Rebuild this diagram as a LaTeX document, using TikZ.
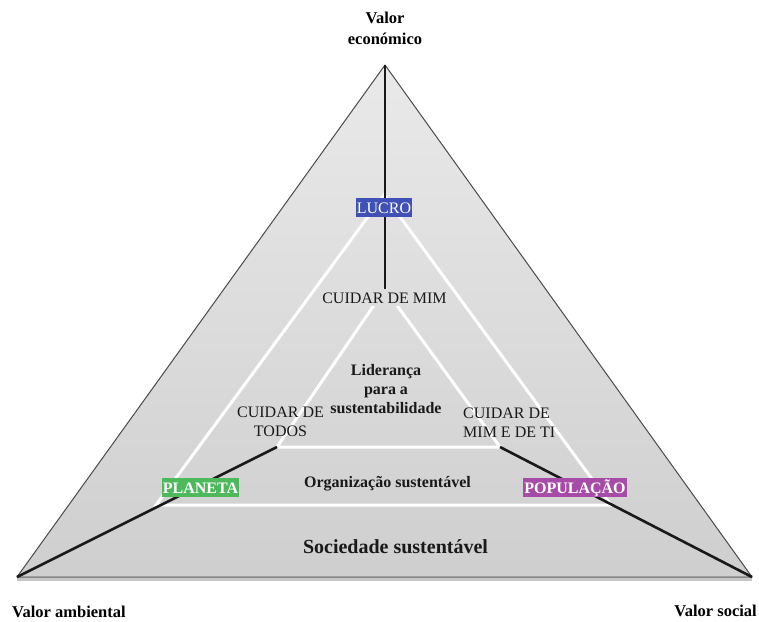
\documentclass[tikz,border=0pt]{standalone}
\usepackage{fontspec}
\setmainfont{Liberation Serif}
\definecolor{lucroblue}{HTML}{3F51B5}
\definecolor{planetgreen}{HTML}{4DB85C}
\definecolor{popviolet}{HTML}{A64CA8}
\definecolor{edgegray}{HTML}{4A4A4A}
\begin{document}
\begin{tikzpicture}[x=1pt,y=-1pt,
  txt/.style={font=\fontsize{16}{19}\selectfont, text=black!90, inner sep=0pt},
  boldtxt/.style={txt, font=\fontsize{16}{19}\selectfont\bfseries},
  vertexlabel/.style={font=\fontsize{16.5}{21}\selectfont\bfseries, inner sep=0pt},
  tag/.style={font=\fontsize{16}{19}\selectfont, text=white, inner xsep=1pt,
    inner ysep=4pt, text height=11pt, text depth=0pt, anchor=base},
  whiteline/.style={draw=white, line width=3pt, line join=miter},
  blackline/.style={draw=black!90, line width=2.6pt}]
\useasboundingbox (0,0) rectangle (759,621);

% corner points of the three triangles
\coordinate (E) at (385,65);
\coordinate (A) at (17,577);
\coordinate (S) at (752,577);
\coordinate (m1) at (384,195);
\coordinate (m2) at (156,505);
\coordinate (m3) at (611,505);
\coordinate (i1) at (385,289);
\coordinate (i2) at (277,447);
\coordinate (i3) at (500,447);

% outer triangle with soft shadow along the base
\draw[gray!45, line width=3pt] ([yshift=-2pt]A) -- ([yshift=-2pt]S);
\shade[top color=gray!17, bottom color=gray!38] (E) -- (A) -- (S) -- cycle;
\draw[edgegray, line width=1pt, line join=round] (E) -- (A) -- (S) -- cycle;

% nested white triangles
\draw[whiteline] (m1) -- (m2) -- (m3) -- cycle;
\draw[whiteline] (i1) -- (i2) -- (i3) -- cycle;

% axes from the outer corners
\draw[blackline] (E) -- (i1);
\draw[blackline] (A) -- (i2);
\draw[blackline] (i3) -- (S);

% corner values
\node[vertexlabel, align=center, anchor=base] (eco) at (385,44) {Valor\\econ\'omico};
\node[vertexlabel, anchor=base west] (amb) at (12,617) {Valor ambiental};
\node[vertexlabel, anchor=base east] (soc) at (757,616) {Valor social};

% coloured tags
\node[tag, fill=lucroblue] (lucro) at (384,213) {LUCRO};
\node[tag, fill=planetgreen, font=\fontsize{16}{19}\selectfont\bfseries] (planeta) at (200.5,493) {PLANETA};
\node[tag, fill=popviolet, font=\fontsize{16}{19}\selectfont\bfseries] (pop) at (575,493) {POPULAÇÃO};

% texts inside the triangles
\node[txt, anchor=base, fill=gray!26, inner xsep=1pt, inner ysep=3pt] (mim) at (384.5,303) {CUIDAR DE MIM};
\node[boldtxt, align=center, anchor=base] (lid) at (386,413) {Liderança\\para a\\sustentabilidade};
\node[txt, align=center, anchor=base] (todos) at (280.5,436) {CUIDAR DE\\TODOS};
\node[txt, align=left, anchor=base west] (ti) at (463,437) {CUIDAR DE\\MIM E DE TI};
\node[boldtxt, anchor=base] (org) at (387.5,487) {Organização sustentável};
\node[txt, font=\fontsize{20}{24}\selectfont\bfseries, anchor=base] (soc2) at (395.5,553) {Sociedade sustentável};
\end{tikzpicture}
\end{document}
